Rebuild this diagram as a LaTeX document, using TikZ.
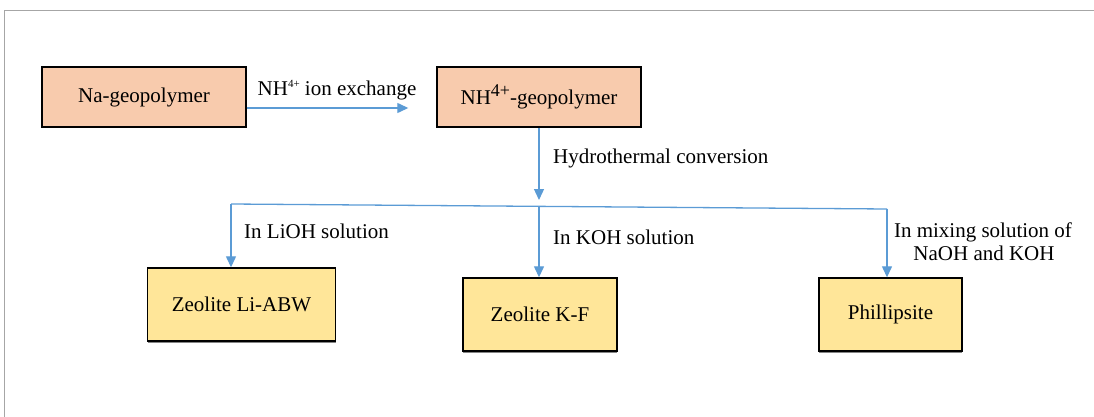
\documentclass[tikz,border=0pt]{standalone}
\usepackage{fontspec}
\setmainfont{Liberation Serif}
\usetikzlibrary{arrows.meta,calc,shadows}
\definecolor{peach}{HTML}{F8CBAD}
\definecolor{lemon}{HTML}{FFE699}
\definecolor{flow}{HTML}{5B9BD5}
\definecolor{framegray}{HTML}{A6A6A6}
\begin{document}
\begin{tikzpicture}[x=1pt,y=-1pt,
  every node/.style={font=\fontsize{21}{25}\selectfont},
  boxbase/.style={draw=black, line width=1.4pt, inner sep=0pt,
    drop shadow={shadow xshift=0pt, shadow yshift=-1.5pt, fill=black!60, opacity=0.8}},
  topbox/.style={boxbase, fill=peach, minimum width=204pt, minimum height=60pt},
  botbox/.style={boxbase, fill=lemon, minimum height=73pt},
  flowline/.style={draw=flow, line width=1.3pt},
  flowarrow/.style={flowline, -{Triangle[length=11pt,width=10pt]}},
  lbl/.style={inner sep=0pt}
]
\useasboundingbox (0,0) rectangle (1094,417);
\draw[framegray, line width=1.2pt] (4.5,417) -- (4.5,10.5) -- (1094,10.5);

\node[topbox] (na) at (144,97) {Na-geopolymer};
\node[topbox] (nh) at (539,97) {NH\raisebox{8pt}{\fontsize{18}{18}\selectfont 4+}-geopolymer};
\node[botbox, minimum width=188pt] (li) at (241.5,304.5) {Zeolite Li-ABW};
\node[botbox, minimum width=154pt] (kf) at (540,314.5) {Zeolite K-F};
\node[botbox, minimum width=143pt] (ph) at (890.5,314.5) {Phillipsite};

\draw[flowarrow] ($(na.east)+(0,11)$) -- ($(nh.west)+(-28,11)$);
\node[lbl, anchor=base] (lx) at (337,96) {NH\raisebox{8.5pt}{\fontsize{11}{11}\selectfont 4+} ion exchange};

\coordinate (hm) at (539,206);
\coordinate (hl) at (231,204);
\coordinate (hr) at (887,209);
\draw[flowarrow] (nh.south) -- ($(hm)+(0,-6)$);
\draw[flowline] (hl) -- (hr);
\draw[flowarrow] (hl) -- (hl |- li.north);
\draw[flowarrow] (hm) -- (hm |- kf.north);
\draw[flowarrow] (hr) -- (hr |- ph.north);

\node[lbl, anchor=base west] (hy) at (553,163) {Hydrothermal conversion};
\node[lbl, anchor=base west] (lio) at (244,238) {In LiOH solution};
\node[lbl, anchor=base west] (koh) at (553,244) {In KOH solution};
\node[lbl, anchor=base] (mx1) at (983,237) {In mixing solution of};
\node[lbl, anchor=base] (mx2) at (984,260) {NaOH and KOH};
\end{tikzpicture}
\end{document}
